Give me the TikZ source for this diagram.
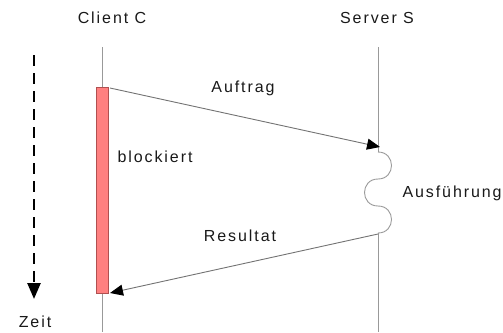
\documentclass[tikz,border=0pt]{standalone}
\usepackage{fontspec}
\setmainfont{Liberation Sans}[LetterSpace=12]
\usetikzlibrary{positioning,arrows.meta}
\definecolor{blockred}{HTML}{FF8080}
\definecolor{blockedge}{HTML}{B05050}

\begin{document}
\begin{tikzpicture}[x=1pt, y=-1pt,
    every node/.style={font=\fontsize{16}{19}\selectfont, text=black!90},
    lifeline/.style={draw=black!40, line width=0.9pt},
    msg/.style={draw=black!55, line width=0.9pt, -{Triangle[length=13pt,width=11pt,black]}},
    blockbar/.style={draw=blockedge, fill=blockred, minimum width=12pt, minimum height=206pt, inner sep=0pt}]
\useasboundingbox (0,0) rectangle (503,332);

% headers
\node (client) at (112,18) {Client C};
\node (server) at (377,18) {Server S};

% lifelines
\draw[lifeline] (102,47) -- (102,332);
\draw[lifeline] (378,47) -- (378,152);
\draw[lifeline] (378,233) -- (378,332);

% blocked client
\node[blockbar] (blk) at (102,190) {};
\node[anchor=west] (blocked) at (114,157) {blockiert};

% request and reply
\coordinate (reqstart) at (110,88);
\coordinate (reqend) at (380,147);
\coordinate (repstart) at (378,234);
\coordinate (repend) at (110,293);
\draw[msg] (reqstart) -- (reqend);
\draw[msg] (repstart) -- (repend);
\node (order) at (243,88) {Auftrag};
\node (result) at (240,236) {Resultat};

% execution on the server
\draw[lifeline] (378,152) .. controls (396,152) and (396,179) .. (378,179)
                          .. controls (360,179) and (360,206) .. (378,206)
                          .. controls (396,206) and (396,233) .. (378,233);
\node[anchor=west] (exec) at (399,193) {Ausführung};

% time axis
\coordinate (tstart) at (34,55);
\coordinate (tend) at (34,299);
\draw[line width=2.5pt, dash pattern=on 11pt off 7pt, -{Triangle[length=16pt,width=13pt]}] (tstart) -- (tend);
\node (time) at (35,322) {Zeit};
\end{tikzpicture}
\end{document}
